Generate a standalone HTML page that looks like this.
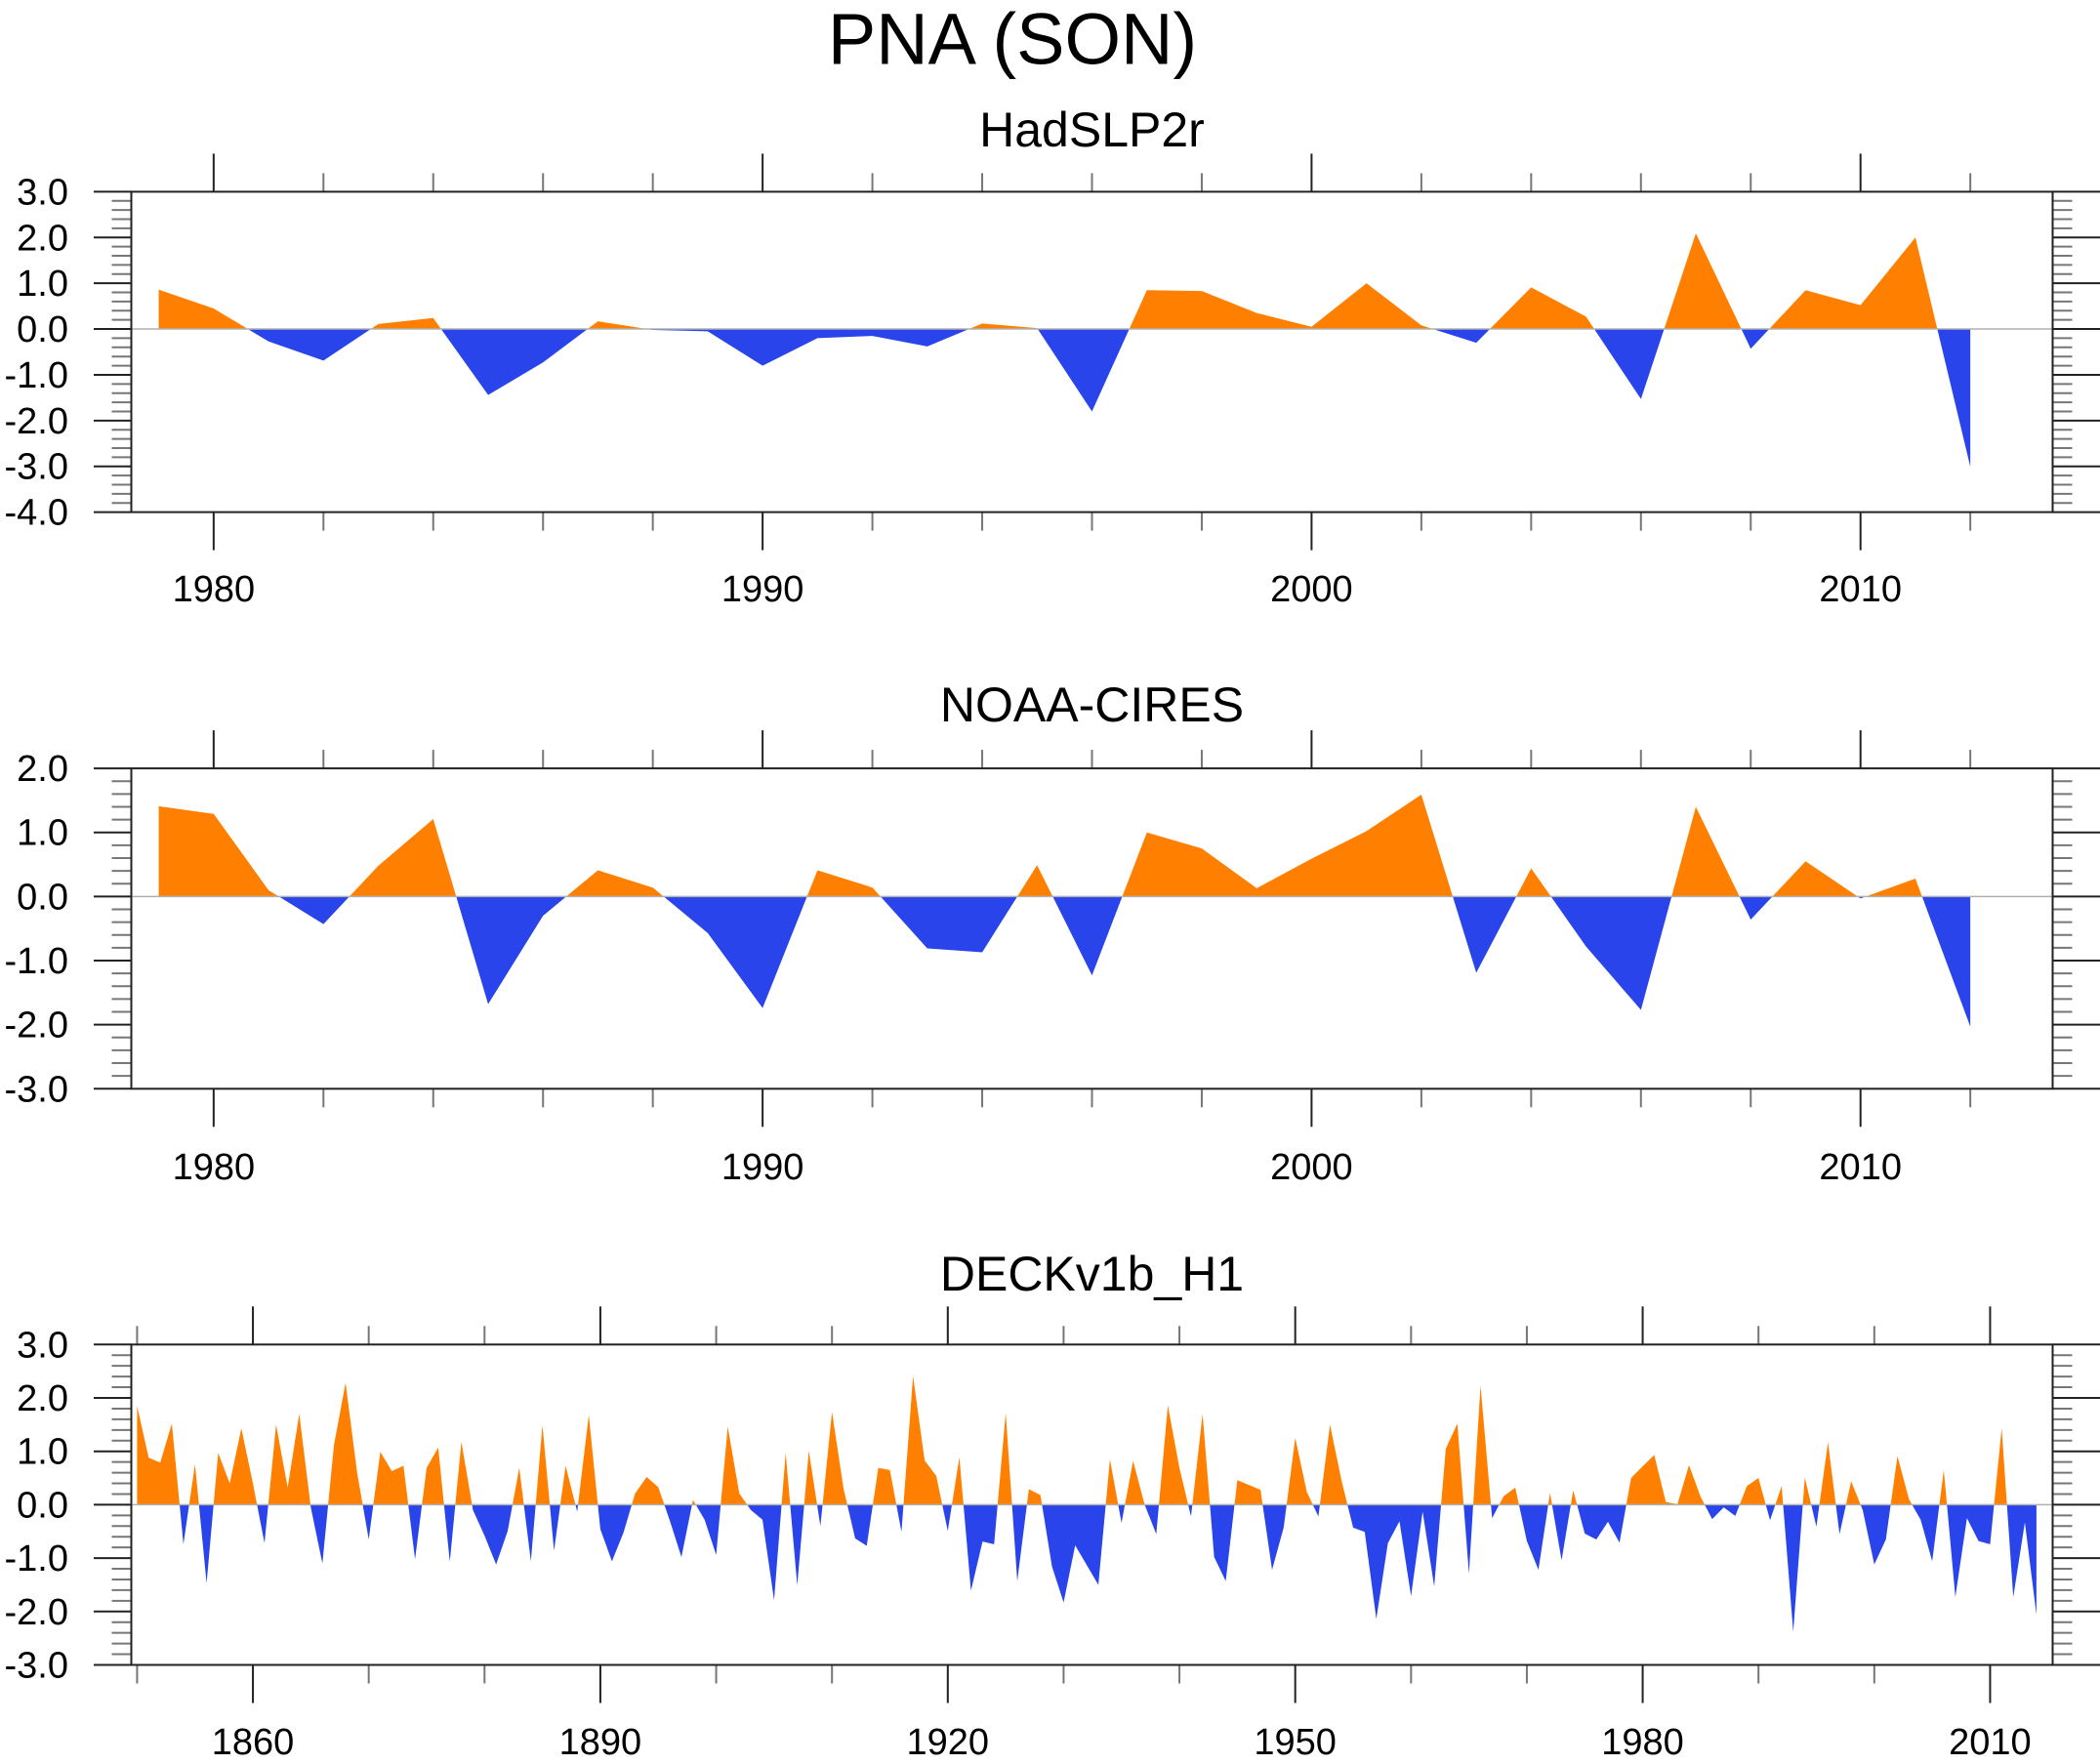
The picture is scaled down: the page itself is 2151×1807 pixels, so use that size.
<!DOCTYPE html>
<html><head><meta charset="utf-8"><style>
html,body{margin:0;padding:0;background:#fff;}
svg{display:block;font-family:"Liberation Sans",Arial,sans-serif;}
</style></head><body>
<svg id="fig" width="2151" height="1807" viewBox="0 0 2151 1807" xmlns="http://www.w3.org/2000/svg">
<text x="1037" y="40" font-size="74" text-anchor="middle" dominant-baseline="central">PNA (SON)</text>
</svg>
<script>
const hadYears = [1979,1980,1981,1982,1983,1984,1985,1986,1987,1988,1989,1990,1991,1992,1993,1994,1995,1996,1997,1998,1999,2000,2001,2002,2003,2004,2005,2006,2007,2008,2009,2010,2011,2012];
const hadValues = [0.86,0.45,-0.27,-0.69,0.11,0.24,-1.44,-0.73,0.17,-0.02,-0.05,-0.8,-0.2,-0.15,-0.38,0.12,0.02,-1.8,0.85,0.83,0.35,0.05,1.0,0.08,-0.3,0.91,0.27,-1.53,2.09,-0.43,0.85,0.52,2.0,-3.01];
const noaaYears = hadYears;
const noaaValues = [1.41,1.29,0.1,-0.43,0.48,1.21,-1.68,-0.3,0.41,0.14,-0.57,-1.74,0.41,0.14,-0.81,-0.87,0.49,-1.23,1.0,0.75,0.13,0.59,1.02,1.59,-1.19,0.44,-0.78,-1.77,1.4,-0.36,0.55,-0.03,0.28,-2.03];
const deckStartYear = 1850;
const deckValues = [1.85,0.88,0.79,1.52,-0.74,0.76,-1.47,0.97,0.4,1.43,0.4,-0.72,1.5,0.32,1.7,-0.05,-1.1,1.12,2.28,0.6,-0.65,0.99,0.63,0.73,-1.02,0.69,1.07,-1.07,1.18,-0.1,-0.58,-1.12,-0.49,0.69,-1.06,1.49,-0.86,0.73,-0.13,1.68,-0.46,-1.06,-0.52,0.21,0.52,0.33,-0.3,-0.98,0.09,-0.28,-0.94,1.46,0.21,-0.1,-0.28,-1.79,0.97,-1.51,1.01,-0.4,1.74,0.3,-0.63,-0.77,0.69,0.65,-0.51,2.41,0.83,0.54,-0.49,0.89,-1.61,-0.69,-0.74,1.72,-1.43,0.29,0.18,-1.16,-1.83,-0.76,-1.13,-1.5,0.85,-0.34,0.82,0,-0.55,1.86,0.69,-0.22,1.7,-0.98,-1.43,0.46,0.37,0.28,-1.22,-0.43,1.25,0.24,-0.22,1.5,0.45,-0.43,-0.51,-2.14,-0.72,-0.31,-1.71,-0.13,-1.53,1.05,1.52,-1.29,2.23,-0.25,0.16,0.32,-0.68,-1.22,0.22,-1.04,0.27,-0.54,-0.65,-0.32,-0.71,0.5,0.72,0.93,0.05,0.01,0.74,0.15,-0.27,-0.05,-0.21,0.35,0.5,-0.29,0.35,-2.38,0.51,-0.41,1.17,-0.55,0.44,-0.1,-1.12,-0.65,0.91,0.1,-0.28,-1.06,0.65,-1.73,-0.25,-0.68,-0.74,1.43,-1.73,-0.33,-2.06];
const deckYears = deckValues.map((v,i)=>deckStartYear+i);

const NS="http://www.w3.org/2000/svg";
const svg=document.getElementById('fig');
function mk(tag,attrs,parent){const e=document.createElementNS(NS,tag);for(const k in attrs)e.setAttribute(k,attrs[k]);(parent||svg).appendChild(e);return e;}

function panel(o){
  const g=mk('g',{});
  
  
  const L=134.5,R=2102.5,T=o.top,B=o.top+328.2;
  const sx=y=>L+(y-o.x0)/(o.x1-o.x0)*(R-L);
  const sy=v=>T+(o.y1-v)/(o.y1-o.y0)*(B-T);
  const zy=sy(0);
  const id=o.name;
  const defs=mk('defs',{},g);
  const cp=mk('clipPath',{id:id+'-pos'},defs);mk('rect',{x:L,y:T,width:R-L,height:zy-T},cp);
  const cn=mk('clipPath',{id:id+'-neg'},defs);mk('rect',{x:L,y:zy,width:R-L,height:B-zy},cn);
  let d='M'+sx(o.years[0])+','+zy;
  o.values.forEach((v,i)=>{d+=' L'+sx(o.years[i]).toFixed(2)+','+sy(v).toFixed(2);});
  d+=' L'+sx(o.years[o.years.length-1])+','+zy+' Z';
  const pa=mk('path',{d:d,fill:'#FF8000','clip-path':'url(#'+id+'-pos)'},g);
  
  
  const na=mk('path',{d:d,fill:'#2844EA','clip-path':'url(#'+id+'-neg)'},g);
  
  
  const zl=mk('line',{x1:L,x2:R,y1:zy,y2:zy,stroke:'#b0b0b0','stroke-width':1.5},g);
  
  
  for(let k=Math.round(o.y0*5);k<=Math.round(o.y1*5);k++){
    const v=k/5,y=sy(v),maj=(k%5===0);
    mk('line',{x1:L-(maj?38.5:20),x2:L,y1:y,y2:y,stroke:maj?'#222':'#777','stroke-width':2},g);
    mk('line',{x1:R,x2:R+(maj?50:20),y1:y,y2:y,stroke:maj?'#222':'#777','stroke-width':2},g);
    if(maj){const t=mk('text',{x:70,y:y+1,'font-size':38,'text-anchor':'end','dominant-baseline':'central'},g);t.textContent=v.toFixed(1);
      
      }
  }
  const first=Math.ceil(o.x0/o.minor)*o.minor;
  for(let yr=first;yr<=o.x1;yr+=o.minor){
    const x=sx(yr),maj=(yr-o.majorBase)%o.major===0;
    const len=maj?39:19;
    mk('line',{x1:x,x2:x,y1:T-len,y2:T,stroke:maj?'#222':'#777','stroke-width':2},g);
    mk('line',{x1:x,x2:x,y1:B,y2:B+len,stroke:maj?'#222':'#777','stroke-width':2},g);
    if(maj){const t=mk('text',{x:x,y:o.labelY,'font-size':38,'text-anchor':'middle','dominant-baseline':'central'},g);t.textContent=yr;
      
      }
  }
  const fr=mk('rect',{x:L,y:T,width:R-L,height:B-T,fill:'none',stroke:'#222','stroke-width':2},g);
  
  
  const tt=mk('text',{x:1118.5,y:o.titleY,'font-size':50,'text-anchor':'middle','dominant-baseline':'central'},g);
  tt.textContent=o.title;
  
  
}
panel({name:'hadslp2r-panel',title:'HadSLP2r',top:196.4,y0:-4,y1:3,x0:1978.5,x1:2013.5,minor:2,major:10,majorBase:1980,years:hadYears,values:hadValues,labelY:604,titleY:133});
panel({name:'noaa-cires-panel',title:'NOAA-CIRES',top:787.1,y0:-3,y1:2,x0:1978.5,x1:2013.5,minor:2,major:10,majorBase:1980,years:noaaYears,values:noaaValues,labelY:1196,titleY:722});
panel({name:'deckv1b-panel',title:'DECKv1b_H1',top:1377.3,y0:-3,y1:3,x0:1849.5,x1:2015.4,minor:10,major:30,majorBase:1860,years:deckYears,values:deckValues,labelY:1785,titleY:1305});
</script>
</body></html>
